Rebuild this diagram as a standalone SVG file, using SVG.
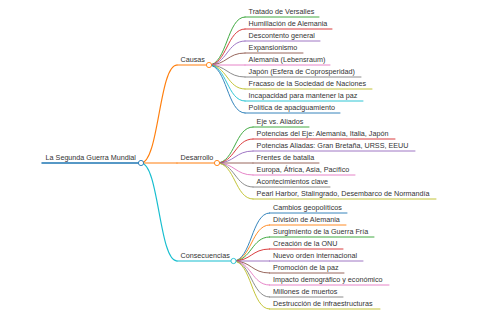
<svg xmlns="http://www.w3.org/2000/svg" width="480" height="320" viewBox="0 0 480 320">
<style>
text{font-family:"Liberation Sans",Arial,sans-serif;font-size:7.2px;fill:#333}
path{fill:none;stroke-linecap:round}
.l0{stroke-width:1.5}.l1{stroke-width:1.2}.l2{stroke-width:0.9}
circle{fill:#fff;stroke-width:0.9}
.c0{stroke:#1f77b4}.c1{stroke:#ff7f0e}.c2{stroke:#2ca02c}.c3{stroke:#d62728}.c4{stroke:#9467bd}
.c5{stroke:#8c564b}.c6{stroke:#e377c2}.c7{stroke:#7f7f7f}.c8{stroke:#bcbd22}.c9{stroke:#17becf}
</style>
<rect width="480" height="320" fill="#fff"/>
<g id="connectors">
<path class="l1 c1" d="M141,163C159,163 159,65 177,65"/>
<path class="l1 c1" d="M141,163L177,163"/>
<path class="l1 c9" d="M141,163C159,163 159,261 177,261"/>
<path class="l2 c2" d="M209,65C227,65 227,17 245,17"/>
<path class="l2 c3" d="M209,65C227,65 227,29 245,29"/>
<path class="l2 c4" d="M209,65C227,65 227,41 245,41"/>
<path class="l2 c5" d="M209,65C227,65 227,53 245,53"/>
<path class="l2 c6" d="M209,65L245,65"/>
<path class="l2 c7" d="M209,65C227,65 227,77 245,77"/>
<path class="l2 c8" d="M209,65C227,65 227,89 245,89"/>
<path class="l2 c9" d="M209,65C227,65 227,101 245,101"/>
<path class="l2 c0" d="M209,65C227,65 227,113 245,113"/>
<path class="l2 c2" d="M217,163C235,163 235,127 253,127"/>
<path class="l2 c3" d="M217,163C235,163 235,139 253,139"/>
<path class="l2 c4" d="M217,163C235,163 235,151 253,151"/>
<path class="l2 c5" d="M217,163L253,163"/>
<path class="l2 c6" d="M217,163C235,163 235,175 253,175"/>
<path class="l2 c7" d="M217,163C235,163 235,187 253,187"/>
<path class="l2 c8" d="M217,163C235,163 235,199 253,199"/>
<path class="l2 c0" d="M233.5,261C251.5,261 251.5,213 269.5,213"/>
<path class="l2 c1" d="M233.5,261C251.5,261 251.5,225 269.5,225"/>
<path class="l2 c2" d="M233.5,261C251.5,261 251.5,237 269.5,237"/>
<path class="l2 c3" d="M233.5,261C251.5,261 251.5,249 269.5,249"/>
<path class="l2 c4" d="M233.5,261L269.5,261"/>
<path class="l2 c5" d="M233.5,261C251.5,261 251.5,273 269.5,273"/>
<path class="l2 c6" d="M233.5,261C251.5,261 251.5,285 269.5,285"/>
<path class="l2 c7" d="M233.5,261C251.5,261 251.5,297 269.5,297"/>
<path class="l2 c8" d="M233.5,261C251.5,261 251.5,309 269.5,309"/>
</g>
<g id="root"><path class="l0 c0" d="M42,163H141"/><text x="45.6" y="160.4">La Segunda Guerra Mundial</text><circle class="c0" cx="141" cy="163" r="2.6"/></g>
<g id="causas"><path class="l1 c1" d="M177,65H209"/><text x="180.6" y="62.4">Causas</text><circle class="c1" cx="209" cy="65" r="2.6"/></g>
<g id="desarrollo"><path class="l1 c1" d="M177,163H217"/><text x="180.6" y="160.4">Desarrollo</text><circle class="c1" cx="217" cy="163" r="2.6"/></g>
<g id="consecuencias"><path class="l1 c9" d="M177,261H233.5"/><text x="180.6" y="258.4">Consecuencias</text><circle class="c9" cx="233.5" cy="261" r="2.6"/></g>
<g id="c-1"><path class="l2 c2" d="M245,17H319"/><text x="248.6" y="14.4">Tratado de Versalles</text></g>
<g id="c-2"><path class="l2 c3" d="M245,29H332"/><text x="248.6" y="26.4">Humillación de Alemania</text></g>
<g id="c-3"><path class="l2 c4" d="M245,41H320"/><text x="248.6" y="38.4">Descontento general</text></g>
<g id="c-4"><path class="l2 c5" d="M245,53H303"/><text x="248.6" y="50.4">Expansionismo</text></g>
<g id="c-5"><path class="l2 c6" d="M245,65H330"/><text x="248.6" y="62.4">Alemania (Lebensraum)</text></g>
<g id="c-6"><path class="l2 c7" d="M245,77H361"/><text x="248.6" y="74.4">Japón (Esfera de Coprosperidad)</text></g>
<g id="c-7"><path class="l2 c8" d="M245,89H372"/><text x="248.6" y="86.4">Fracaso de la Sociedad de Naciones</text></g>
<g id="c-8"><path class="l2 c9" d="M245,101H363"/><text x="248.6" y="98.4">Incapacidad para mantener la paz</text></g>
<g id="c-9"><path class="l2 c0" d="M245,113H340"/><text x="248.6" y="110.4">Política de apaciguamiento</text></g>
<g id="d-1"><path class="l2 c2" d="M253,127H309"/><text x="256.6" y="124.4">Eje vs. Aliados</text></g>
<g id="d-2"><path class="l2 c3" d="M253,139H395"/><text x="256.6" y="136.4">Potencias del Eje: Alemania, Italia, Japón</text></g>
<g id="d-3"><path class="l2 c4" d="M253,151H415"/><text x="256.6" y="148.4">Potencias Aliadas: Gran Bretaña, URSS, EEUU</text></g>
<g id="d-4"><path class="l2 c5" d="M253,163H319"/><text x="256.6" y="160.4">Frentes de batalla</text></g>
<g id="d-5"><path class="l2 c6" d="M253,175H355"/><text x="256.6" y="172.4">Europa, África, Asia, Pacífico</text></g>
<g id="d-6"><path class="l2 c7" d="M253,187H330"/><text x="256.6" y="184.4">Acontecimientos clave</text></g>
<g id="d-7"><path class="l2 c8" d="M253,199H436"/><text x="256.6" y="196.4">Pearl Harbor, Stalingrado, Desembarco de Normandía</text></g>
<g id="e-1"><path class="l2 c0" d="M269.5,213H347"/><text x="273.1" y="210.4">Cambios geopolíticos</text></g>
<g id="e-2"><path class="l2 c1" d="M269.5,225H346"/><text x="273.1" y="222.4">División de Alemania</text></g>
<g id="e-3"><path class="l2 c2" d="M269.5,237H374"/><text x="273.1" y="234.4">Surgimiento de la Guerra Fría</text></g>
<g id="e-4"><path class="l2 c3" d="M269.5,249H343"/><text x="273.1" y="246.4">Creación de la ONU</text></g>
<g id="e-5"><path class="l2 c4" d="M269.5,261H363"/><text x="273.1" y="258.4">Nuevo orden internacional</text></g>
<g id="e-6"><path class="l2 c5" d="M269.5,273H344"/><text x="273.1" y="270.4">Promoción de la paz</text></g>
<g id="e-7"><path class="l2 c6" d="M269.5,285H389"/><text x="273.1" y="282.4">Impacto demográfico y económico</text></g>
<g id="e-8"><path class="l2 c7" d="M269.5,297H343"/><text x="273.1" y="294.4">Millones de muertos</text></g>
<g id="e-9"><path class="l2 c8" d="M269.5,309H380"/><text x="273.1" y="306.4">Destrucción de infraestructuras</text></g>
</svg>
